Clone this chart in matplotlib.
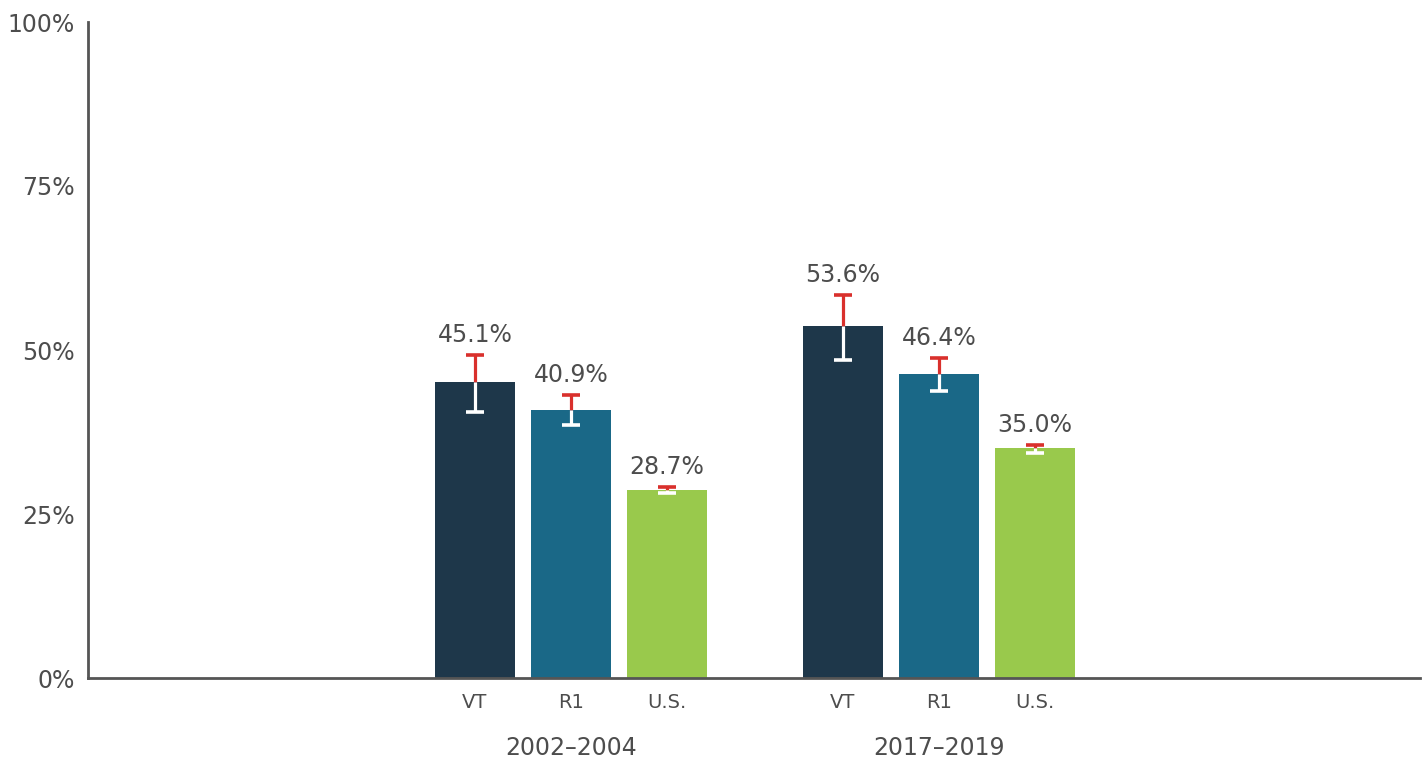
import matplotlib
matplotlib.use("Agg")
import matplotlib.pyplot as plt
import matplotlib.transforms as mtransforms
import numpy as np

periods = ["2002\u20132004", "2017\u20132019"]
regions = ["VT", "R1", "U.S."]
values = [[45.1, 40.9, 28.7], [53.6, 46.4, 35.0]]
upper = [[49.2, 43.1, 29.1], [58.4, 48.8, 35.5]]
lower = [[40.6, 38.5, 28.2], [48.4, 43.8, 34.3]]
colors = ["#1e374a", "#1a6887", "#99c94c"]

text_color = "#4d4d4d"
plt.rcParams['font.family'] = ['DejaVu Sans']

fig = plt.figure(figsize=(14.28, 7.63), dpi=100)
ax = fig.add_axes([88/1428, 1-678/763, (1420-88)/1428, (678-22)/763])

group_centers = [0.0, 3.83]
offsets = [-1, 0, 1]
width = 0.833
cap = 0.095

xticks, xlabels = [], []
for gi, gc in enumerate(group_centers):
    for ri, off in enumerate(offsets):
        x = gc + off
        v = values[gi][ri]
        up = upper[gi][ri]
        lo = lower[gi][ri]
        ax.bar(x, v, width=width, color=colors[ri], zorder=2)
        ax.vlines(x, v, up, color="#d9302c", lw=2.3, zorder=3)
        ax.hlines(up, x - cap, x + cap, color="#d9302c", lw=2.6, zorder=3)
        ax.vlines(x, lo, v, color="white", lw=2.3, zorder=3)
        ax.hlines(lo, x - cap, x + cap, color="white", lw=2.6, zorder=3)
        ax.annotate(f"{v:.1f}%", (x, up), xytext=(0, 9.5),
                    textcoords="offset points", ha="center", va="baseline",
                    fontsize=17, color=text_color, zorder=4)
        xticks.append(x)
        xlabels.append(regions[ri])

ax.set_xlim(-5.03, 8.84)
ax.set_ylim(0, 100)
ax.set_yticks([0, 25, 50, 75, 100])
ax.set_yticklabels(["0%", "25%", "50%", "75%", "100%"])
ax.set_xticks(xticks)
ax.set_xticklabels(xlabels)
ax.tick_params(axis='y', length=0, pad=9.5, labelsize=17, labelcolor=text_color)
ax.tick_params(axis='x', length=0, pad=11, labelsize=14, labelcolor=text_color)

for s in ["top", "right"]:
    ax.spines[s].set_visible(False)
for s in ["left", "bottom"]:
    ax.spines[s].set_color("#555555")
    ax.spines[s].set_linewidth(2)

trans = mtransforms.blended_transform_factory(ax.transData, ax.transAxes)
for gi, gc in enumerate(group_centers):
    ax.text(gc, 0, periods[gi], transform=trans + mtransforms.ScaledTranslation(0, -70/100, fig.dpi_scale_trans),
            ha="center", va="center", fontsize=17, color=text_color)

fig.savefig("out.png", dpi=100)
